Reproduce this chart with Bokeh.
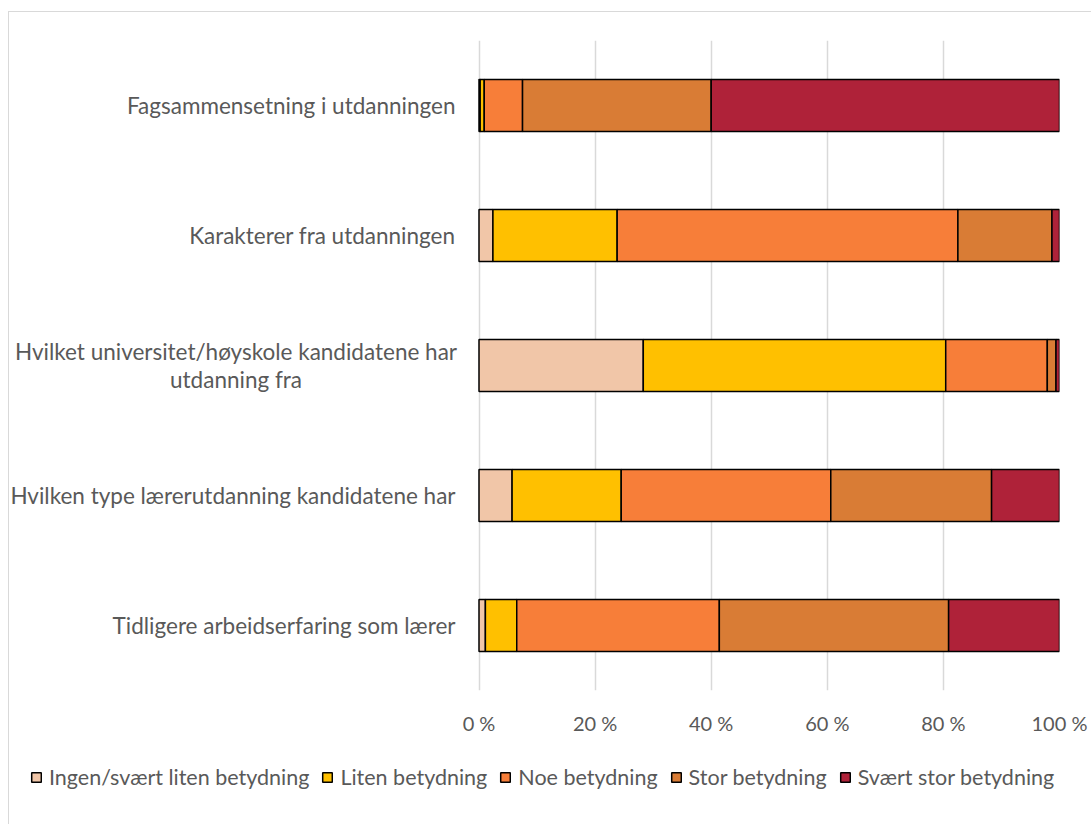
from bokeh.plotting import figure
from bokeh.layouts import column
from bokeh.models import ColumnDataSource, FactorRange, FixedTicker, PrintfTickFormatter, Range1d
from bokeh.core.properties import value
from bokeh.embed import file_html
from bokeh.resources import INLINE

categories = [
    "Fagsammensetning i utdanningen",
    "Karakterer fra utdanningen",
    "Hvilket universitet/høyskole kandidatene har utdanning fra",
    "Hvilken type lærerutdanning kandidatene har",
    "Tidligere arbeidserfaring som lærer",
]
wrapped_label = "Hvilket universitet/høyskole kandidatene har\nutdanning fra"
series_names = [
    "Ingen/svært liten betydning",
    "Liten betydning",
    "Noe betydning",
    "Stor betydning",
    "Svært stor betydning",
]
ingen = [0.2, 2.4, 28.3, 5.7, 1.1]
liten = [0.7, 21.4, 52.1, 18.8, 5.4]
noe = [6.6, 58.7, 17.5, 36.1, 34.9]
stor = [32.5, 16.2, 1.5, 27.7, 39.5]
svaert = [60.0, 1.3, 0.6, 11.7, 19.1]
x_ticks = [0, 20, 40, 60, 80, 100]

colors = ["#F1C6A8", "#FFC000", "#F77E39", "#D97C35", "#AF2239"]
keys = ["ingen", "liten", "noe", "stor", "svaert"]

FONT = "Lato"
TXT = "#595959"

source = ColumnDataSource(dict(cat=categories, ingen=ingen, liten=liten, noe=noe,
                               stor=stor, svaert=svaert))

y_factors = categories[::-1]
p = figure(width=1082, height=728, y_range=FactorRange(*y_factors),
           x_range=(-80.88, 100), output_backend="svg", toolbar_location=None,
           y_axis_location=None,
           min_border_left=0, min_border_right=32, min_border_top=28, min_border_bottom=50)

p.hbar_stack(keys, y="cat", height=0.4, color=colors, source=source,
             line_color="black", line_width=1.5)

p.outline_line_color = None
p.ygrid.grid_line_color = None
p.xgrid.grid_line_color = "#D9D9D9"
p.xgrid.grid_line_width = 1.5
p.xaxis.ticker = FixedTicker(ticks=x_ticks)
p.xaxis.formatter = PrintfTickFormatter(format="%d %%")
p.xaxis.axis_line_color = None
p.xaxis.major_tick_line_color = None
p.xaxis.minor_tick_line_color = None
p.xaxis.major_tick_out = 0
p.xaxis.major_label_text_font = FONT
p.xaxis.major_label_text_color = TXT
p.xaxis.major_label_text_font_size = "20px"
p.xaxis.major_label_standoff = 20

# category labels, anchored at the start of the value axis
single = [c for c in categories if c != categories[2]]
lab_src = ColumnDataSource(dict(cat=single, x=[x_ticks[0]] * len(single), text=single))
p.text(x="x", y="cat", text="text", source=lab_src, x_offset=-23.5,
       text_align="right", text_baseline="middle", text_font=value(FONT),
       text_font_size="22.5px", text_color=TXT)
wrap_src = ColumnDataSource(dict(cat=[categories[2]], x=[x_ticks[0]], text=[wrapped_label]))
p.text(x="x", y="cat", text="text", source=wrap_src, x_offset=-243,
       text_align="center", text_baseline="middle", text_line_height=1.06,
       text_font=value(FONT), text_font_size="22.5px", text_color=TXT)

# legend strip: same stacked series on a range whose factors are the series names,
# so the bars themselves are not placed (only their legend swatches show)
p2 = figure(width=1082, height=84, output_backend="svg", toolbar_location=None,
            x_axis_location=None, y_axis_location=None, min_border=0,
            y_range=FactorRange(*series_names), x_range=Range1d(0, 100))
p2.outline_line_color = None
p2.grid.grid_line_color = None
p2.hbar_stack(keys, y="cat", height=0.4, color=colors, source=source,
              line_color="black", line_width=1.5, legend_label=series_names)
lg = p2.legend[0]
lg.orientation = "horizontal"
lg.location = (21, 34)
lg.glyph_width = 12
lg.glyph_height = 12
lg.label_height = 24
lg.label_standoff = 7
lg.spacing = 12
lg.padding = 0
lg.margin = 0
lg.border_line_color = None
lg.background_fill_alpha = 0
lg.label_text_font = FONT
lg.label_text_font_size = "21.5px"
lg.label_text_color = TXT

layout = column(p, p2, spacing=0)
layout.styles = {"border-top": "1px solid #D9D9D9", "border-left": "1px solid #D9D9D9",
                 "margin-top": "11px", "margin-left": "8px"}

open("out.html", "w").write(file_html(layout, INLINE))
